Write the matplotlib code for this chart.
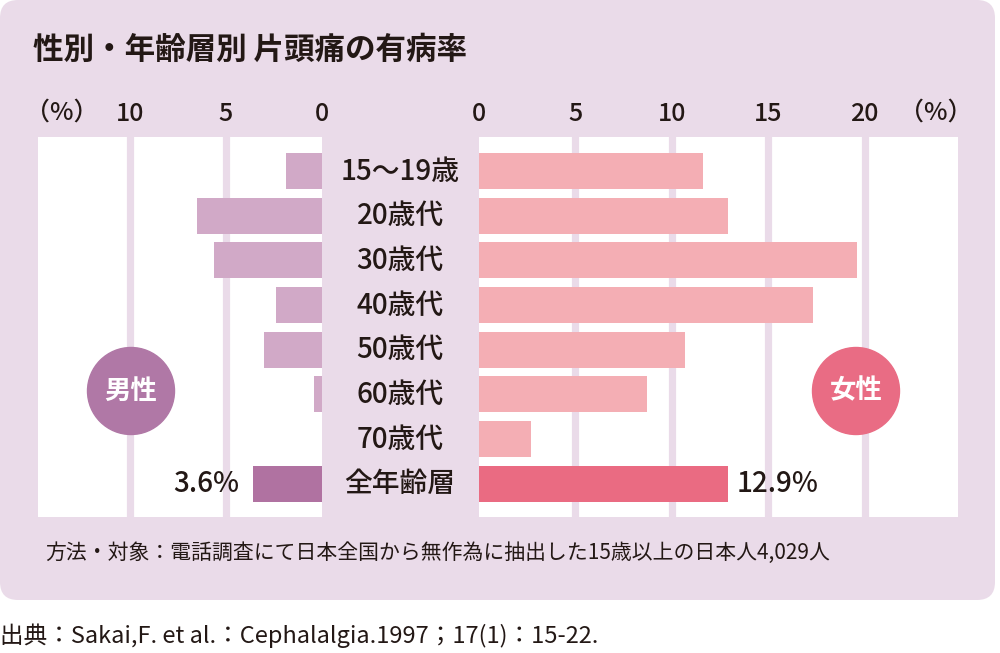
import matplotlib
matplotlib.use("Agg")
import matplotlib.pyplot as plt
from matplotlib.patches import FancyBboxPatch, Circle
from matplotlib.transforms import blended_transform_factory

plt.rcParams['font.family'] = ['Noto Sans CJK JP', 'DejaVu Sans']

# ---- data ----
categories = ["15～19歳", "20歳代", "30歳代", "40歳代", "50歳代", "60歳代", "70歳代", "全年齢層"]
male = [1.9, 6.5, 5.6, 2.4, 3.0, 0.4, 0.0, 3.6]
female = [11.6, 12.9, 19.6, 17.3, 10.7, 8.7, 2.7, 12.9]
male_ticks = [0, 5, 10]
female_ticks = [0, 5, 10, 15, 20]
title = "性別・年齢層別 片頭痛の有病率"
note = "方法・対象：電話調査にて日本全国から無作為に抽出した15歳以上の日本人4,029人"
source = "出典：Sakai,F. et al.：Cephalalgia.1997；17(1)：15-22."
male_total_label = "3.6%"
female_total_label = "12.9%"

# ---- styles ----
BG = "#eadbe9"
TXT = "#231815"
M_LIGHT = "#d1a9c7"
M_DARK = "#b072a1"
F_LIGHT = "#f4aeb4"
F_DARK = "#ea6b82"
M_CIRCLE = "#b078a6"
F_CIRCLE = "#e96c84"

W, H = 1000, 653
fig = plt.figure(figsize=(W / 100, H / 100), dpi=100)
fig.patch.set_facecolor("white")

def fx(px):
    return px / W

def fy(py):
    return 1 - py / H

# background rounded panel
bg = FancyBboxPatch((fx(0), fy(600)), fx(995), 600 / H,
                    boxstyle="round,pad=0,rounding_size=0.018",
                    transform=fig.transFigure, facecolor=BG, edgecolor="none",
                    zorder=-10, mutation_aspect=W / H)
fig.patches.append(bg)

top_px, bot_px = 137, 516.5
n = len(categories)
row0, step = 171.0, 44.67
ylim_top = -(row0 - top_px) / step
ylim_bot = (n - 1) + (bot_px - (row0 + (n - 1) * step)) / step

# left (male) axes
axL = fig.add_axes([fx(38), fy(bot_px), fx(322 - 38), (bot_px - top_px) / H])
axL.set_facecolor("white")
axL.set_xlim((322 - 38) / 19.2, 0)
axL.set_ylim(ylim_bot, ylim_top)
# right (female) axes
axR = fig.add_axes([fx(479), fy(bot_px), fx(958 - 479), (bot_px - top_px) / H])
axR.set_facecolor("white")
axR.set_xlim(3 / 19.4, (958 - 476) / 19.4)
axR.set_ylim(ylim_bot, ylim_top)

ypos = list(range(n))
mcolors = [M_LIGHT] * (n - 1) + [M_DARK]
fcolors = [F_LIGHT] * (n - 1) + [F_DARK]

for ax, ticks in ((axL, male_ticks), (axR, female_ticks)):
    for s in ax.spines.values():
        s.set_visible(False)
    for t in ticks[1:]:
        ax.axvline(t, color=BG, lw=5.2, zorder=1)
    ax.xaxis.tick_top()
    ax.set_xticks(ticks)
    ax.set_xticklabels([str(t) for t in ticks], fontsize=18, color=TXT,
                       fontweight="medium")
    ax.tick_params(axis="x", length=0, pad=7)
    ax.set_yticks([])

axL.barh(ypos, male, height=0.806, color=mcolors, zorder=2)
axR.barh(ypos, female, height=0.806, color=fcolors, zorder=2)

# value labels for totals
axL.text(male[-1] + 0.7, n - 1, male_total_label, ha="right", va="center",
         fontsize=20, color=TXT, fontweight="medium")
axR.text(female[-1] + 0.45, n - 1, female_total_label, ha="left", va="center",
         fontsize=20, color=TXT, fontweight="medium")

# category labels in the middle
trans = blended_transform_factory(fig.transFigure, axL.transData)
for i, c in enumerate(categories):
    axL.text(fx(400), i, c, transform=trans, ha="center", va="center",
             fontsize=20, color=TXT, fontweight="medium", clip_on=False)

# (%) labels
fig.text(fx(62), fy(113), "（%）", ha="center", va="center", fontsize=18,
         color=TXT, fontweight="medium")
fig.text(fx(936), fy(113), "（%）", ha="center", va="center", fontsize=18,
         color=TXT, fontweight="medium")

# title
fig.text(fx(33), fy(50), title, ha="left", va="center", fontsize=22,
         fontweight="bold", color=TXT)

# circles overlay (pixel coordinates)
ov = fig.add_axes([0, 0, 1, 1], facecolor="none")
ov.set_xlim(0, W)
ov.set_ylim(H, 0)
ov.set_axis_off()
ov.add_patch(Circle((131, 391), 43.5, color=M_CIRCLE, zorder=5))
ov.add_patch(Circle((856, 391), 43.5, color=F_CIRCLE, zorder=5))
ov.text(131, 391, "男性", ha="center", va="center", fontsize=19,
        fontweight="bold", color="white", zorder=6)
ov.text(856, 391, "女性", ha="center", va="center", fontsize=19,
        fontweight="bold", color="white", zorder=6)

# note and source
fig.text(fx(45), fy(553), note, ha="left", va="center", fontsize=15, color=TXT)
fig.text(fx(0), fy(636), source, ha="left", va="center", fontsize=17, color=TXT)

fig.savefig("out.png", dpi=100, facecolor="white")
